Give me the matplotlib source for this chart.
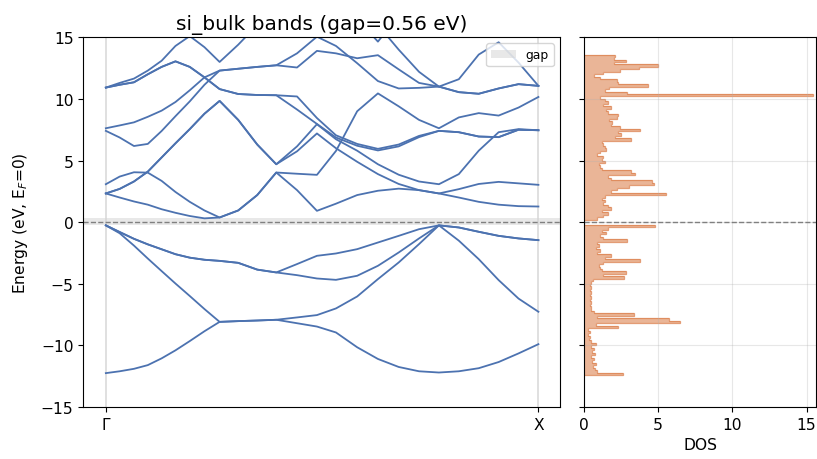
import matplotlib
matplotlib.use("Agg")
import matplotlib.pyplot as plt
import numpy as np

# k-path positions (Gamma ... X)
k_path = [0.000, 0.032, 0.065, 0.097, 0.129, 0.161, 0.194, 0.228, 0.263,
          0.306, 0.350, 0.394, 0.442, 0.488, 0.532, 0.581, 0.629, 0.677,
          0.724, 0.770, 0.816, 0.862, 0.908, 0.954, 1.000]
k_ticks = [0.0, 1.0]
k_labels = ["Γ", "X"]

# valence bands (eV)
band_v1 = [-12.25, -12.1, -11.9, -11.6, -11.05, -10.4, -9.65, -8.85, -8.09,
           -8.03, -7.98, -7.92, -8.2, -8.47, -8.95, -10.15, -11.1, -11.75,
           -12.1, -12.2, -12.1, -11.85, -11.35, -10.65, -9.9]
band_v2 = [-0.26, -0.9, -1.9, -2.95, -3.97, -4.98, -5.99, -7.05, -8.09,
           -8.03, -7.98, -7.92, -7.73, -7.54, -7.0, -6.03, -4.62, -3.27,
           -1.78, -0.26, -1.5, -3.0, -4.7, -6.2, -7.27]
band_v3 = [-0.26, -0.8, -1.35, -1.8, -2.2, -2.6, -2.88, -3.05, -3.14,
           -3.3, -3.85, -4.08, -3.4, -2.73, -2.54, -2.19, -1.65, -1.11,
           -0.57, -0.26, -0.43, -0.78, -1.11, -1.32, -1.46]
band_v4 = [-0.26, -0.8, -1.35, -1.8, -2.2, -2.6, -2.88, -3.05, -3.14,
           -3.3, -3.85, -4.08, -4.3, -4.57, -4.68, -4.35, -3.54, -2.46,
           -1.32, -0.26, -0.43, -0.78, -1.11, -1.32, -1.46]

# conduction bands (eV)
band_c1 = [2.33, 2.0, 1.68, 1.42, 1.05, 0.76, 0.5, 0.31, 0.38,
           0.95, 2.2, 4.03, 2.6, 0.92, 1.5, 2.2, 2.55, 2.72,
           2.6, 2.33, 2.0, 1.65, 1.42, 1.3, 1.27]
band_c2 = [3.08, 3.7, 4.05, 4.02, 3.35, 2.45, 1.65, 0.95, 0.38,
           0.95, 2.2, 4.03, 3.93, 3.84, 5.78, 9.0, 10.45, 9.4,
           8.3, 7.62, 8.5, 8.85, 8.65, 9.3, 10.16]
band_c3 = [2.33, 2.7, 3.3, 4.1, 5.25, 6.4, 7.55, 8.8, 9.84,
           8.3, 6.3, 4.7, 6.15, 7.95, 6.73, 5.8, 4.7, 3.85,
           3.3, 3.08, 3.9, 5.8, 7.3, 7.55, 7.46]
band_c4 = [2.33, 2.7, 3.3, 4.1, 5.25, 6.4, 7.55, 8.8, 9.84,
           8.3, 6.3, 4.7, 5.75, 7.2, 6.0, 4.9, 3.9, 3.1,
           2.6, 2.33, 2.68, 3.1, 3.27, 3.15, 3.03]
band_c5 = [10.92, 11.15, 11.35, 12.0, 12.6, 13.05, 12.6, 11.75, 10.8,
           10.4, 10.32, 10.3, 10.2, 8.45, 7.05, 6.35, 5.95, 6.3,
           7.0, 7.41, 7.3, 6.95, 6.9, 7.5, 7.46]
band_c6 = [10.92, 11.15, 11.35, 12.0, 12.6, 13.05, 12.6, 11.75, 10.8,
           10.4, 10.32, 10.3, 9.14, 7.97, 6.87, 6.2, 5.82, 6.15,
           6.9, 7.41, 7.3, 6.95, 6.9, 7.5, 7.46]
band_c7 = [7.41, 6.87, 6.18, 6.35, 7.4, 8.6, 9.8, 11.15, 12.3,
           12.45, 12.6, 12.73, 13.7, 15.05, 14.3, 12.9, 11.45, 10.85,
           10.9, 11.0, 10.55, 10.42, 10.85, 11.2, 11.06]
band_c8 = [7.62, 7.85, 8.1, 8.55, 9.05, 9.75, 10.7, 11.75, 12.3,
           12.45, 12.6, 12.73, 12.55, 13.9, 13.7, 13.3, 13.55, 12.4,
           11.3, 11.0, 11.6, 13.6, 14.6, 12.95, 11.06]
band_c9 = [10.92, 11.3, 11.65, 12.3, 13.1, 14.3, 15.1, 14.2, 13.0,
           14.4, 16.0, 17.0, 17.5, 17.6, 17.4, 17.0, 16.0, 14.0,
           12.2, 11.0, 10.55, 10.42, 10.85, 11.2, 11.06]
band_c10 = [17.0, 17.0, 17.0, 17.0, 17.0, 17.0, 17.0, 17.0, 17.0,
            17.2, 17.4, 17.5, 17.5, 17.5, 17.4, 16.5, 14.65, 16.8,
            17.2, 17.4, 17.4, 17.4, 17.4, 17.4, 17.4]

bands = [band_v1, band_v2, band_v3, band_v4,
         band_c1, band_c2, band_c3, band_c4, band_c5,
         band_c6, band_c7, band_c8, band_c9, band_c10]

vbm = -0.26
cbm = 0.30
gap = 0.56

# density of states, bins of 0.2 eV starting at -12.4 eV
dos_e_min = -12.4
dos_bin = 0.2
dos_values = [
    2.6, 0.9, 0.75, 0.6, 0.8, 0.55, 0.7, 0.5, 0.75, 0.55,   # -12.4 .. -10.6
    0.7, 0.5, 0.8, 0.45, 0.35, 0.4, 0.3, 0.4, 0.3, 2.3,     # -10.4 .. -8.6
    0.8, 6.5, 5.7, 0.9, 3.4, 0.7, 0.5, 0.45, 0.4, 0.5,      # -8.4 .. -6.6
    0.4, 0.45, 0.4, 0.5, 0.4, 0.45, 0.4, 0.5, 0.6, 2.7,     # -6.4 .. -4.6
    1.3, 2.8, 1.2, 1.1, 1.0, 1.3, 3.8, 1.4, 1.8, 0.9,       # -4.4 .. -2.6
    1.1, 0.8, 1.0, 0.9, 2.9, 1.3, 1.1, 1.5, 1.2, 1.6,       # -2.4 .. -0.6
    4.8, 0.0, 0.0, 0.9, 1.3, 1.6, 1.2, 1.8, 1.6, 1.3,       # -0.4 .. 1.4
    1.4, 1.2, 1.4, 5.5, 1.8, 2.2, 3.0, 4.7, 4.55, 1.8,      # 1.6 .. 3.4
    1.6, 3.45, 3.2, 1.2, 1.1, 1.0, 1.4, 1.2, 1.3, 0.9,      # 3.6 .. 5.4
    1.1, 1.5, 1.4, 1.3, 1.2, 3.2, 2.1, 2.5, 2.3, 3.8,       # 5.6 .. 7.4
    2.4, 1.8, 1.9, 1.7, 2.2, 2.3, 1.6, 1.5, 1.8, 1.3,       # 7.6 .. 9.4
    1.6, 1.4, 1.1, 15.4, 2.9, 1.4, 1.7, 4.3, 2.3, 2.2,      # 9.6 .. 11.4
    1.1, 0.7, 1.3, 2.4, 3.7, 5.0, 2.0, 2.8, 2.0, 2.1,       # 11.6 .. 13.4
]

band_color = "#4c72b0"
dos_color = "#dd8452"

fig = plt.figure(figsize=(8.17, 4.6), dpi=100)
ax_b = fig.add_axes([0.102, 0.113, 0.5835, 0.8037])
ax_d = fig.add_axes([0.7148, 0.113, 0.284, 0.8037], sharey=ax_b)

# band structure
for kx in k_ticks:
    ax_b.axvline(kx, color="#dddddd", lw=1.3, zorder=0)
ax_b.axhspan(vbm, cbm, color="lightgrey", alpha=0.5, lw=0, label="gap")
for band in bands:
    ax_b.plot(k_path, band, color=band_color, lw=1.3)
ax_b.axhline(0, color="grey", ls="--", lw=1.0)
ax_b.set_xticks(k_ticks)
ax_b.set_xticklabels(k_labels)
ax_b.set_xlim(-0.052, 1.05)
ax_b.set_ylim(-15, 15)
ax_b.set_ylabel("Energy (eV, E$_F$=0)", fontsize=11.2, labelpad=8)
ax_b.set_title(f"si_bulk bands (gap={gap:.2f} eV)", fontsize=14.5)
ax_b.tick_params(labelsize=11.2)
ax_b.legend(loc="upper right", fontsize=8.9)

# DOS panel
edges = dos_e_min + dos_bin * np.arange(len(dos_values) + 1)
ax_d.stairs(dos_values, edges, orientation="horizontal", fill=True,
            color=dos_color, alpha=0.6, lw=0)
ax_d.stairs(dos_values, edges, orientation="horizontal",
            color=dos_color, alpha=0.8, lw=0.9)
ax_d.axhline(0, color="grey", ls="--", lw=1.0)
ax_d.set_xlim(0, 15.63)
ax_d.set_xticks([0, 5, 10, 15])
ax_d.set_xlabel("DOS", fontsize=11.2)
ax_d.grid(True, alpha=0.3)
ax_d.tick_params(labelsize=11.2, labelleft=False)

fig.savefig("out.png", dpi=100)
